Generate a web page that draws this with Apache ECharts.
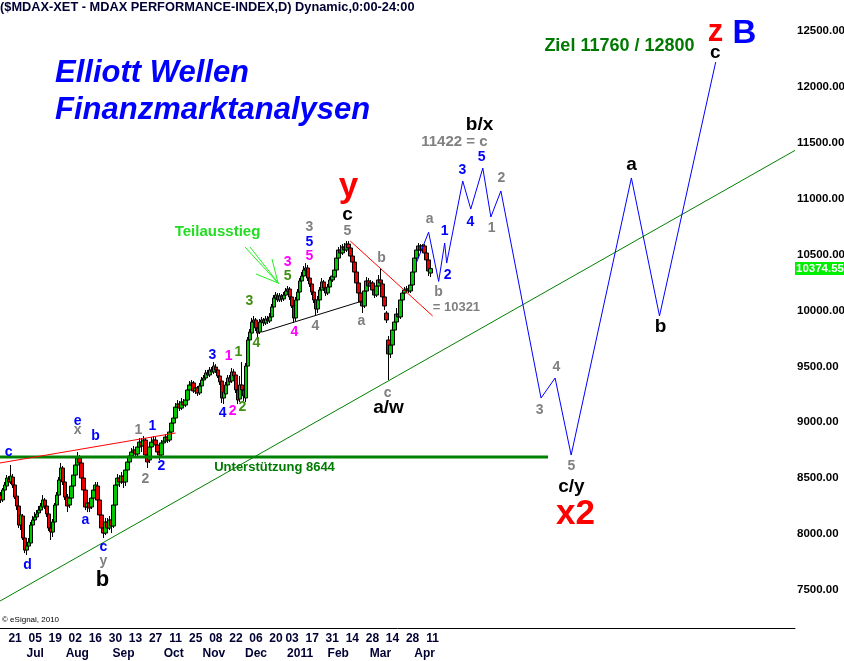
<!DOCTYPE html>
<html>
<head>
<meta charset="utf-8">
<script src="https://cdn.jsdelivr.net/npm/echarts@6.0.0/dist/echarts.min.js"></script>
<style>
  html, body { margin: 0; padding: 0; background: #fff; }
  #chart { width: 844px; height: 661px; }
</style>
</head>
<body>
<div id="chart"></div>
<script>
// daily MDAX candles, [open, close, low, high], starting 10.06.2010
const candles = [
  [8349, 8305, 8278, 8376], [8305, 8394, 8287, 8412], [8394, 8439, 8367, 8466], [8430, 8501, 8412, 8528],
  [8492, 8466, 8439, 8519], [8466, 8519, 8448, 8618], [8510, 8439, 8412, 8537], [8439, 8331, 8313, 8457],
  [8340, 8251, 8215, 8358], [8251, 8081, 8054, 8269], [8081, 8171, 8036, 8197], [8162, 7965, 7947, 8180],
  [7965, 7857, 7830, 7983], [7857, 7893, 7813, 7920], [7893, 7929, 7857, 7965], [7920, 8081, 7893, 8108],
  [8081, 8126, 8054, 8162], [8126, 8153, 8108, 8197], [8153, 8180, 8126, 8215], [8189, 8215, 8162, 8251],
  [8215, 8251, 8197, 8278], [8242, 8305, 8215, 8349], [8305, 8251, 8224, 8323], [8251, 8180, 8153, 8278],
  [8180, 8054, 8027, 8197], [8054, 8018, 7947, 8162], [8018, 8108, 7974, 8135], [8108, 8260, 8090, 8278],
  [8260, 8349, 8242, 8376], [8349, 8484, 8331, 8510], [8484, 8591, 8457, 8636], [8591, 8466, 8439, 8609],
  [8466, 8331, 8305, 8484], [8331, 8251, 8197, 8358], [8260, 8322, 8233, 8349], [8322, 8430, 8305, 8448],
  [8430, 8528, 8412, 8546], [8528, 8618, 8510, 8645], [8618, 8680, 8591, 8734], [8680, 8636, 8573, 8707],
  [8636, 8501, 8484, 8663], [8501, 8394, 8367, 8519], [8394, 8242, 8215, 8412], [8242, 8278, 8197, 8305],
  [8278, 8233, 8197, 8305], [8242, 8322, 8224, 8349], [8322, 8394, 8305, 8421], [8394, 8439, 8367, 8466],
  [8430, 8305, 8287, 8466], [8305, 8171, 8144, 8322], [8171, 8054, 8027, 8215], [8054, 8009, 7965, 8126],
  [8009, 8108, 7991, 8144], [8108, 8054, 8027, 8144], [8054, 8126, 8036, 8162], [8126, 8072, 8009, 8153],
  [8072, 8260, 8054, 8287], [8260, 8439, 8242, 8484], [8439, 8501, 8394, 8537], [8501, 8466, 8421, 8528],
  [8466, 8519, 8448, 8555], [8519, 8466, 8412, 8573], [8466, 8573, 8430, 8600], [8573, 8645, 8555, 8680],
  [8645, 8698, 8618, 8725], [8698, 8734, 8680, 8770], [8734, 8752, 8707, 8788], [8752, 8716, 8689, 8779],
  [8716, 8779, 8698, 8806], [8779, 8823, 8752, 8859], [8823, 8788, 8734, 8859], [8788, 8841, 8770, 8877],
  [8841, 8707, 8663, 8859], [8707, 8645, 8591, 8752], [8663, 8779, 8636, 8806], [8779, 8823, 8752, 8868],
  [8823, 8841, 8788, 8877], [8841, 8797, 8770, 8868], [8797, 8734, 8716, 8832], [8734, 8707, 8663, 8788],
  [8707, 8815, 8680, 8841], [8815, 8832, 8788, 8868], [8832, 8868, 8815, 8895], [8868, 8841, 8815, 8904],
  [8841, 8913, 8823, 8931], [8913, 8993, 8895, 9020], [8993, 9038, 8966, 9074], [9038, 9136, 9020, 9172],
  [9136, 9163, 9110, 9199], [9163, 9127, 9101, 9190], [9127, 9181, 9110, 9217], [9181, 9154, 9127, 9208],
  [9154, 9199, 9136, 9234], [9199, 9289, 9181, 9316], [9289, 9334, 9271, 9369], [9334, 9352, 9307, 9378],
  [9352, 9280, 9262, 9369], [9280, 9307, 9253, 9334], [9307, 9262, 9235, 9325], [9262, 9325, 9244, 9352],
  [9325, 9378, 9298, 9405], [9378, 9396, 9352, 9423], [9396, 9441, 9378, 9468], [9441, 9423, 9396, 9468],
  [9423, 9468, 9405, 9494], [9468, 9450, 9423, 9494], [9450, 9503, 9432, 9539], [9494, 9468, 9441, 9521],
  [9468, 9414, 9396, 9485], [9414, 9361, 9334, 9441], [9369, 9217, 9172, 9387], [9217, 9271, 9163, 9307],
  [9253, 9334, 9235, 9361], [9334, 9396, 9307, 9423], [9396, 9361, 9334, 9423], [9369, 9450, 9352, 9485],
  [9450, 9414, 9387, 9476], [9423, 9289, 9262, 9450], [9289, 9199, 9163, 9307], [9208, 9334, 9181, 9414],
  [9334, 9289, 9262, 9539], [9289, 9235, 9190, 9325], [9217, 9503, 9181, 9530], [9503, 9736, 9485, 9763],
  [9736, 9807, 9709, 9834], [9798, 9897, 9781, 9933], [9897, 9915, 9861, 9951], [9915, 9843, 9816, 9933],
  [9843, 9798, 9763, 9870], [9807, 9897, 9790, 9924], [9897, 9915, 9870, 9942], [9915, 9888, 9861, 9933],
  [9888, 9924, 9870, 9951], [9924, 9906, 9879, 9951], [9906, 9942, 9888, 9977], [9942, 10031, 9924, 10058],
  [10031, 10112, 10013, 10138], [10112, 10138, 10085, 10165], [10130, 10094, 10076, 10156], [10094, 10130, 10076, 10156],
  [10130, 10103, 10076, 10147], [10103, 10138, 10085, 10165], [10138, 10174, 10121, 10201], [10174, 10192, 10147, 10219],
  [10192, 10121, 10094, 10210], [10121, 10040, 10022, 10147], [10040, 9933, 9888, 10067], [9933, 10094, 9906, 10121],
  [10094, 10165, 10076, 10192], [10165, 10264, 10147, 10290], [10264, 10308, 10246, 10344], [10308, 10362, 10281, 10398],
  [10362, 10380, 10317, 10424], [10380, 10290, 10264, 10407], [10290, 10237, 10210, 10317], [10237, 10165, 10138, 10264],
  [10165, 10094, 10067, 10192], [10094, 10013, 9960, 10121], [10013, 10094, 9977, 10130], [10094, 10183, 10076, 10210],
  [10183, 10255, 10165, 10290], [10255, 10201, 10174, 10273], [10201, 10156, 10130, 10228], [10156, 10210, 10138, 10237],
  [10210, 10273, 10192, 10299], [10273, 10308, 10255, 10335], [10299, 10362, 10281, 10389], [10362, 10469, 10344, 10496],
  [10469, 10541, 10452, 10568], [10541, 10514, 10487, 10586], [10514, 10568, 10496, 10594], [10568, 10541, 10523, 10603],
  [10541, 10594, 10523, 10621], [10594, 10559, 10532, 10621], [10559, 10487, 10469, 10586], [10487, 10433, 10407, 10514],
  [10433, 10344, 10317, 10460], [10344, 10246, 10219, 10362], [10246, 10156, 10130, 10273], [10156, 10076, 10040, 10183],
  [10076, 10040, 9977, 10112], [10040, 10174, 10022, 10201], [10174, 10264, 10156, 10299], [10264, 10219, 10192, 10290],
  [10219, 10246, 10192, 10273], [10246, 10183, 10156, 10264], [10183, 10138, 10112, 10210], [10138, 10219, 10121, 10246],
  [10219, 10273, 10201, 10317], [10273, 10246, 10219, 10380], [10237, 10121, 10094, 10264], [10121, 10040, 10004, 10147],
  [9977, 9915, 9888, 9995], [9736, 9611, 9378, 9772], [9611, 9691, 9575, 9718], [9691, 9825, 9664, 9852],
  [9825, 9897, 9790, 9933], [9897, 9968, 9870, 10022], [9968, 9942, 9915, 10004], [9942, 10094, 9924, 10130],
  [10094, 10156, 10067, 10183], [10156, 10183, 10138, 10210], [10183, 10192, 10156, 10219], [10192, 10174, 10156, 10219],
  [10174, 10228, 10156, 10255], [10228, 10344, 10210, 10371], [10344, 10469, 10326, 10496], [10469, 10541, 10452, 10577],
  [10541, 10577, 10514, 10603], [10577, 10541, 10514, 10594], [10541, 10577, 10523, 10594], [10577, 10514, 10487, 10594],
  [10514, 10452, 10433, 10541], [10452, 10353, 10308, 10478], [10335, 10374.55, 10299, 10407]
];
const lastClose = 10374.55;

// axis
const firstDay = '2010-06-10';
const dayCount = 396;              // trading days incl. empty future space
const holidays = ['2010-12-24', '2010-12-31'];
const dayTicks = ['2010-06-21', '2010-07-05', '2010-07-19', '2010-08-02', '2010-08-16', '2010-08-30',
  '2010-09-13', '2010-09-27', '2010-10-11', '2010-10-25', '2010-11-08', '2010-11-22', '2010-12-06',
  '2010-12-20', '2011-01-03', '2011-01-17', '2011-01-31', '2011-02-14', '2011-02-28', '2011-03-14',
  '2011-03-28', '2011-04-11'];
const monthTicks = {
  '2010-07-05': 'Jul', '2010-08-03': 'Aug', '2010-09-03': 'Sep', '2010-10-08': 'Oct', '2010-11-05': 'Nov',
  '2010-12-06': 'Dec', '2011-01-07': '2011', '2011-02-03': 'Feb', '2011-03-04': 'Mar', '2011-04-05': 'Apr'
};
const priceTicks = [7500, 8000, 8500, 9000, 9500, 10000, 10500, 11000, 11500, 12000, 12500];

// projected wave path (day index, level)
const projIdx = [207, 213, 218, 221, 222, 230, 234, 240, 244, 249, 269, 276, 284, 314, 328, 356];
const projVal = [10430, 10700, 10260, 10603, 10424, 11158, 10907, 11274, 10836, 11069, 9217, 9396, 8707, 11185, 9951, 12222];

// trend lines [day index, level]
const trendUp = [[-0.5, 7401], [395.5, 11432]];
const support = [[-0.5, 8690], [272.5, 8690]];
const redUpper = [[-0.5, 8636], [87, 8904]];
const redDown = [[174, 10621], [215, 9951]];
const blackLine = [[130, 9807], [180, 10085]];
const arrowLines = [
  [[121.5, 10568], [138, 10246]],
  [[124, 10568], [138.5, 10237]],
  [[127, 10326], [138, 10246]],
  [[135, 10460], [138, 10246]]
];

// wave labels [day index, level, text, kind]
const waveLabels = [
  [4, 8725, 'c', 'blue'], [13.4, 7714, 'd', 'blue'], [42.3, 8117, 'a', 'blue'], [47.3, 8868, 'b', 'blue'],
  [38.4, 9004, 'e', 'blue'], [51.3, 7875, 'c', 'blue'], [75.7, 8958, '1', 'blue'], [80.2, 8600, '2', 'blue'],
  [105.6, 9593, '3', 'blue'], [110.6, 9074, '4', 'blue'], [153.9, 10604, '5', 'blue'],
  [221.2, 10702, '1', 'blue'], [222.7, 10308, '2', 'blue'], [230.1, 11248, '3', 'blue'],
  [239.6, 11364, '5', 'blue'], [234.1, 10783, '4', 'blue'],
  [38.4, 8922, 'x', 'gray'], [51.3, 7750, 'y', 'gray'], [68.7, 8922, '1', 'gray'], [72.2, 8484, '2', 'gray'],
  [153.9, 10738, '3', 'gray'], [156.9, 9852, '4', 'gray'], [172.8, 10702, '5', 'gray'], [179.8, 9897, 'a', 'gray'],
  [189.8, 10460, 'b', 'gray'], [192.8, 9253, 'c', 'gray'], [213.7, 10809, 'a', 'gray'], [218.2, 10156, 'b', 'gray'],
  [227.1, 10022, '= 10321', 'graySmall'], [226.1, 11507, '11422 = c', 'grayMid'],
  [244.6, 10729, '1', 'gray'], [249.5, 11176, '2', 'gray'], [268.5, 9101, '3', 'gray'],
  [276.9, 9486, '4', 'gray'], [284.4, 8600, '5', 'gray'],
  [113.6, 9584, '1', 'magenta'], [115.6, 9092, '2', 'magenta'], [143, 10424, '3', 'magenta'],
  [153.9, 10478, '5', 'magenta'], [146.4, 9799, '4', 'magenta'],
  [118.5, 9620, '1', 'olive'], [120.5, 9128, '2', 'olive'], [124, 10076, '3', 'olive'],
  [127.5, 9700, '4', 'olive'], [143, 10299, '5', 'olive'],
  [50.8, 7589, 'b', 'blackBig'], [172.8, 10854, 'c', 'black'], [193.3, 9128, 'a/w', 'black'],
  [238.6, 11659, 'b/x', 'black'], [284.4, 8421, 'c/y', 'black'], [314.3, 11301, 'a', 'black'],
  [328.8, 9852, 'b', 'black'], [356.1, 12303, 'c', 'black'],
  [173.3, 11096, 'y', 'redHuge'], [356.1, 12482, 'z', 'redBig'], [286.4, 8171, 'x2', 'redHuge'],
  [370.6, 12473, 'B', 'blueHuge'],
  [308.3, 12357, 'Ziel 11760 / 12800', 'target'], [136.5, 8591, 'Unterstützung 8644', 'support'],
  [108.1, 10702, 'Teilausstieg', 'exit']
];

const labelStyles = {
  blue: { color: '#0000ff', fontSize: 14 },
  gray: { color: '#808080', fontSize: 14 },
  graySmall: { color: '#808080', fontSize: 13 },
  grayMid: { color: '#808080', fontSize: 15 },
  magenta: { color: '#ff00ff', fontSize: 14 },
  olive: { color: '#3f8f10', fontSize: 14 },
  black: { color: '#000000', fontSize: 19 },
  blackBig: { color: '#000000', fontSize: 22 },
  redHuge: { color: '#ff0000', fontSize: 35 },
  redBig: { color: '#ff0000', fontSize: 31 },
  blueHuge: { color: '#0000ff', fontSize: 33 },
  target: { color: '#007a00', fontSize: 18 },
  support: { color: '#007a00', fontSize: 13 },
  exit: { color: '#22dd22', fontSize: 15 }
};

const FONT = 'Arial, "Liberation Sans", sans-serif';

function tradingDays(start, count, skip) {
  const out = [];
  const d = new Date(start + 'T00:00:00Z');
  while (out.length < count) {
    const s = d.toISOString().slice(0, 10);
    const wd = d.getUTCDay();
    if (wd !== 0 && wd !== 6 && !skip.includes(s)) out.push(s);
    d.setUTCDate(d.getUTCDate() + 1);
  }
  return out;
}

const dates = tradingDays(firstDay, dayCount, holidays);

function lineSeries(data, color, width) {
  return {
    type: 'line',
    xAxisIndex: 2,
    yAxisIndex: 0,
    data,
    symbol: 'none',
    silent: true,
    z: 4,
    lineStyle: { color, width, opacity: 1 }
  };
}

const chart = echarts.init(document.getElementById('chart'), null, { renderer: 'canvas' });

const series = [
  {
    type: 'candlestick',
    xAxisIndex: 0,
    yAxisIndex: 0,
    data: candles,
    barWidth: 4,
    z: 2,
    itemStyle: {
      color: '#00c800',
      color0: '#e80000',
      borderColor: '#000',
      borderColor0: '#000',
      borderWidth: 1,
      opacity: 1
    },
    markLine: {
      silent: true,
      symbol: ['none', 'none'],
      lineStyle: { color: 'transparent', width: 0 },
      label: {
        show: true,
        position: 'end',
        distance: 0,
        formatter: lastClose.toFixed(2),
        color: '#fff',
        backgroundColor: '#00ee00',
        fontFamily: FONT,
        fontWeight: 'bold',
        fontSize: 11.5,
        padding: [1, 2, 0, 1]
      },
      data: [{ yAxis: lastClose }]
    }
  },
  lineSeries(trendUp, '#008000', 1),
  lineSeries(support, '#008000', 3),
  lineSeries(redUpper, '#ff0000', 1),
  lineSeries(redDown, '#ff0000', 1),
  lineSeries(blackLine, '#000000', 1),
  lineSeries(projIdx.map((x, i) => [x, projVal[i]]), '#0000ff', 1),
  ...arrowLines.map(seg => lineSeries(seg, '#22ee22', 1)),
  {
    type: 'scatter',
    xAxisIndex: 2,
    yAxisIndex: 0,
    symbol: 'circle',
    symbolSize: 1,
    silent: true,
    z: 6,
    itemStyle: { color: 'rgba(0,0,0,0)', opacity: 1 },
    data: waveLabels.map(([x, y, text, kind]) => ({
      value: [x, y],
      label: {
        show: true,
        position: [0, 0],
        align: 'center',
        verticalAlign: 'middle',
        formatter: text,
        fontFamily: FONT,
        fontWeight: 'bold',
        opacity: 1,
        textBorderWidth: 0,
        color: labelStyles[kind].color,
        fontSize: labelStyles[kind].fontSize
      }
    }))
  }
];

const option = {
  animation: false,
  backgroundColor: '#fff',
  textStyle: { fontFamily: FONT },
  grid: { left: 0, right: 49, top: 0, bottom: 33, outerBoundsMode: 'none' },
  xAxis: [
    {
      type: 'category',
      data: dates,
      boundaryGap: true,
      axisLine: { show: true, lineStyle: { color: '#000', width: 1 } },
      axisTick: { show: false },
      splitLine: { show: false },
      axisLabel: {
        interval: 0,
        margin: 5,
        color: '#000033',
        fontWeight: 'bold',
        fontSize: 12,
        fontFamily: FONT,
        formatter: v => (dayTicks.includes(v) ? v.slice(8) : '')
      }
    },
    {
      type: 'category',
      data: dates,
      boundaryGap: true,
      position: 'bottom',
      offset: 15,
      axisLine: { show: false },
      axisTick: { show: false },
      splitLine: { show: false },
      axisLabel: {
        interval: 0,
        margin: 5,
        color: '#000033',
        fontWeight: 'bold',
        fontSize: 12,
        fontFamily: FONT,
        formatter: v => monthTicks[v] || ''
      }
    },
    {
      type: 'value',
      min: -0.5,
      max: dayCount - 0.5,
      show: false
    }
  ],
  yAxis: [
    {
      type: 'value',
      position: 'right',
      min: 7160,
      max: 12777,
      axisLine: { show: false },
      axisTick: { show: false },
      splitLine: { show: false },
      axisLabel: {
        customValues: priceTicks,
        margin: 2,
        color: '#000',
        fontWeight: 'bold',
        fontSize: 11.5,
        fontFamily: FONT,
        formatter: v => v.toFixed(2)
      }
    }
  ],
  graphic: [
    {
      type: 'text', left: 0, top: 1,
      style: { text: '($MDAX-XET - MDAX PERFORMANCE-INDEX,D) Dynamic,0:00-24:00', font: 'bold 12.8px ' + FONT, fill: '#000033' }
    },
    {
      type: 'text', left: 55, top: 58,
      style: { text: 'Elliott Wellen', font: 'italic bold 31px ' + FONT, fill: '#0000ff' }
    },
    {
      type: 'text', left: 55, top: 95,
      style: { text: 'Finanzmarktanalysen', font: 'italic bold 31px ' + FONT, fill: '#0000ff' }
    },
    {
      type: 'text', left: 2, top: 616,
      style: { text: '© eSignal, 2010', font: '8px ' + FONT, fill: '#000' }
    }
  ],
  series
};

chart.setOption(option);
</script>
</body>
</html>
